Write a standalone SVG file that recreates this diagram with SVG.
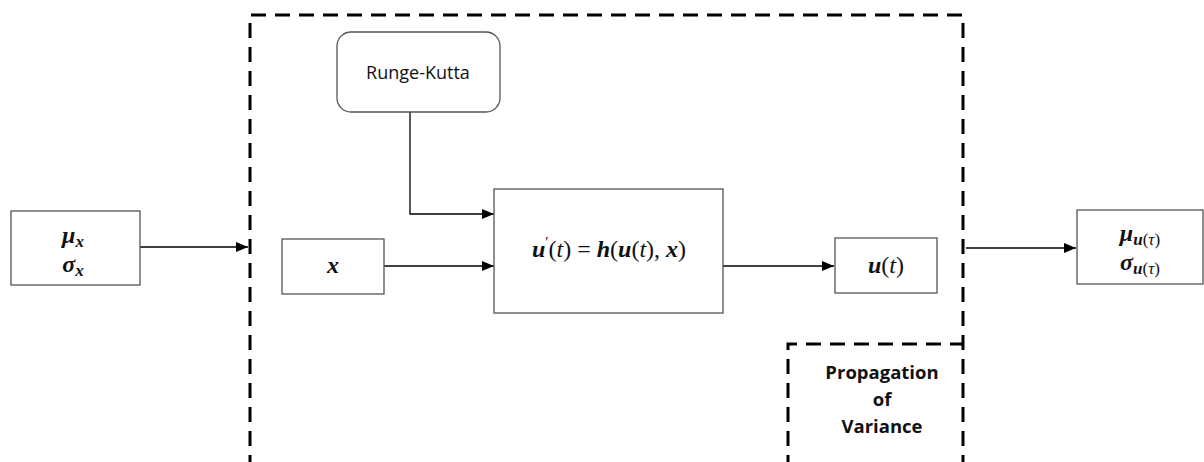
<svg xmlns="http://www.w3.org/2000/svg" width="1204" height="462" viewBox="0 0 1204 462">
<style>
.box{fill:#fff;stroke:#555;stroke-width:1.3}
.dash{fill:none;stroke:#000;stroke-width:3;stroke-dasharray:15 9}
.line{fill:none;stroke:#000;stroke-width:1.3}
.m{font-family:"Liberation Serif","DejaVu Serif",serif;font-weight:bold;font-style:italic;font-size:24px;fill:#111}
.n{font-style:normal;font-weight:normal}
.t{font-style:italic;font-weight:normal}
.lbl{font-family:"Open Sans","Liberation Sans",sans-serif;font-size:18px;fill:#111}
.b{font-family:"Open Sans","Liberation Sans",sans-serif;font-size:18.5px;font-weight:bold;fill:#111}
</style>
<defs>
<marker id="ah" markerWidth="12" markerHeight="10" refX="12" refY="5" orient="auto" markerUnits="userSpaceOnUse">
<path d="M0,0 L12,5 L0,10 Z" fill="#000"/>
</marker>
</defs>
<rect width="1204" height="462" fill="#fff"/>
<g id="pov-frame">
<path class="dash" d="M250,470 L250,15 L963,15 L963,470"/>
</g>
<g id="pov-label">
<path class="dash" d="M788,470 L788,344 L963,344"/>
<text class="b" text-anchor="middle" x="882" y="379">Propagation</text>
<text class="b" text-anchor="middle" x="882" y="406">of</text>
<text class="b" text-anchor="middle" x="882" y="433">Variance</text>
</g>
<g id="connectors">
<line class="line" x1="140" y1="247" x2="248" y2="247" marker-end="url(#ah)"/>
<path class="line" d="M410,112 L410,214 L494,214" marker-end="url(#ah)"/>
<line class="line" x1="384" y1="266" x2="494" y2="266" marker-end="url(#ah)"/>
<line class="line" x1="723" y1="266" x2="834" y2="266" marker-end="url(#ah)"/>
<line class="line" x1="966" y1="248" x2="1076" y2="248" marker-end="url(#ah)"/>
</g>
<g id="input">
<rect class="box" x="11" y="211" width="129" height="74"/>
<text class="m" x="73" y="243" text-anchor="middle">μ<tspan font-size="17" dy="4">x</tspan></text>
<text class="m" x="73" y="272" text-anchor="middle">σ<tspan font-size="17" dy="4">x</tspan></text>
</g>
<g id="runge-kutta">
<rect class="box" x="337" y="32" width="163" height="80" rx="14"/>
<text class="lbl" x="418" y="79" text-anchor="middle">Runge-Kutta</text>
</g>
<g id="x">
<rect class="box" x="282" y="239" width="102" height="55"/>
<text class="m" x="333" y="273" text-anchor="middle">x</text>
</g>
<g id="ode">
<rect class="box" x="494" y="189" width="229" height="124"/>
<text class="m" x="609" y="257" text-anchor="middle">u<tspan font-size="15" dy="-10" class="n">′</tspan><tspan dy="10" class="n">(</tspan><tspan class="t">t</tspan><tspan class="n">) = </tspan>h<tspan class="n">(</tspan>u<tspan class="n">(</tspan><tspan class="t">t</tspan><tspan class="n">), </tspan>x<tspan class="n">)</tspan></text>
</g>
<g id="u">
<rect class="box" x="835" y="238" width="102" height="55"/>
<text class="m" x="886" y="273" text-anchor="middle">u<tspan class="n">(</tspan><tspan class="t">t</tspan><tspan class="n">)</tspan></text>
</g>
<g id="output">
<rect class="box" x="1077" y="210" width="126" height="74"/>
<text class="m" x="1140" y="241" text-anchor="middle">μ<tspan font-size="17" dy="4">u<tspan class="n">(</tspan><tspan class="t">τ</tspan><tspan class="n">)</tspan></tspan></text>
<text class="m" x="1140" y="270" text-anchor="middle">σ<tspan font-size="17" dy="4">u<tspan class="n">(</tspan><tspan class="t">τ</tspan><tspan class="n">)</tspan></tspan></text>
</g>
</svg>
